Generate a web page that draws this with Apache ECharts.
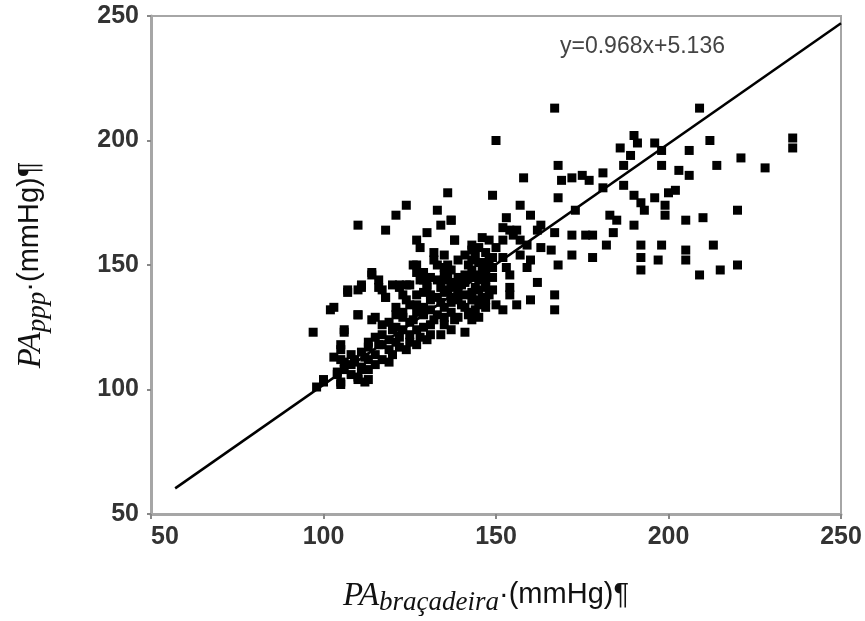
<!DOCTYPE html>
<html>
<head>
<meta charset="utf-8">
<script src="https://cdn.jsdelivr.net/npm/echarts@6/dist/echarts.min.js"></script>
<style>
html,body{margin:0;padding:0;background:#fff;}
#chart{width:865px;height:621px;}
</style>
</head>
<body>
<div id="chart"></div>
<script>
// Axis ticks
const xTicks = [50, 100, 150, 200, 250];
const yTicks = [50, 100, 150, 200, 250];

// Scatter points: [PA braçadeira, PA ppp]  (mmHg)
const upperPoints = [
  [167,213],[209,213],[150,200],[236,201],[236,197],[190,202],[191,199],[189,194],[186,197],[196,199],
  [198,196],[206,196],[212,200],[168,190],[187,190],[198,190],[214,190],[221,193],[228,189],[158,185],
  [169,184],[172,185],[175,186],[177,184],[181,187],[203,188],[206,186],[202,180],[149,178],[168,177],
  [181,181],[187,182],[190,178],[192,175],[193,172],[196,177],[200,179],[199,174],[199,170],[157,174],
  [160,170],[173,172],[183,170],[185,168],[184,163],[182,158],[190,166],[205,168],[210,169],[220,172],
  [137,168],[138,160],[163,166],[167,163],[172,162],[176,162],[178,162],[172,154],[178,153],[192,158],
  [192,153],[198,158],[197,152],[205,156],[205,152],[213,158],[192,148],[209,146],[215,148],[220,150],
  [162,143],[160,136],[167,138],[167,132]
];
const middlePoints = [
  [153,169],[152,165],[154,164],[156,164],[152,160],[162,164],[146,161],[148,160],[150,157],[143,156],
  [155,162],[157,160],[159,158],[163,157],[166,156],[168,150],[157,154],[160,152],[159,149],[152,153],
  [153,149],[154,146],[154,141],[154,138],[148,152],[147,149],[145,146],[147,144],[147,141],[148,138],
  [150,134],[152,132],[156,134],[144,136],[144,132],[143,128],[147,133]
];
const lowerPoints = [
  [136,179],[124,174],[121,170],[133,172],[137,168],[134,166],[110,166],[118,164],[130,163],[127,160],
  [128,157],[138,160],[132,155],[135,154],[136,150],[135,144],[136,140],[143,158],[144,154],[142,150],
  [141,146],[139,142],[126,150],[127,147],[129,144],[130,142],[125,142],[122,141],[120,142],[114,147],
  [116,144],[117,140],[118,137],[111,142],[110,140],[107,139],[102,132],[110,130],[114,128],[106,124],
  [97,123],[105,118],[105,112],[109,112],[111,108],[113,104],[110,104],[104,107],[105,103],[100,104],
  [98,101],[141,123],[130,120]
];
const densePoints = [
  [127,150],[132,152],[135,149],[136,145],[143,152],[146,149],[147,146],
  [122,142],[124,142],[128,144],[130,141],[134,141],[137,141],[140,142],[144,141],[147,142],
  [124,136],[127,134],[131,136],[134,135],[137,137],[140,134],[143,136],[146,137],
  [121,130],[123,129],[126,128],[129,130],[132,128],[135,129],[138,128],[142,130],[145,129],
  [117,122],[120,124],[122,121],[125,122],[128,121],[131,122],[134,122],[137,124],
  [105,116],[113,117],[116,118],[119,116],[122,117],[124,116],[127,118],
  [103,113],[109,111],[112,113],[115,110],[119,111],[120,114],
  [100,103],[104,106],[105,102],[110,105],[112,103],
  [107,140],[114,146],[111,141],[116,141],[118,137],[103,133],[110,130],[115,129],[106,123],
  [106,108],[106,111],[108,106],[108,110],[108,114],[111,109],[111,115],[113,108],[113,112],[113,119],
  [115,114],[115,121],[117,112],[117,118],[117,126],[119,120],[119,127],[121,119],[121,125],[121,133],
  [123,124],[123,131],[123,138],[125,119],[125,127],[125,134],[127,124],[127,131],[127,138],
  [129,125],[129,133],[129,139],[129,147],[131,126],[131,132],[131,138],[131,145],
  [133,130],[133,137],[133,144],[133,150],[135,126],[135,133],[135,139],[135,146],
  [137,131],[137,135],[137,143],[137,148],[139,129],[139,136],[139,139],[139,145],[139,152],
  [141,133],[141,138],[141,143],[141,154],[143,131],[143,139],[143,145],[143,148],
  [145,134],[145,140],[145,144],[145,151],[145,157],[147,136],[147,147],[147,151],[147,155],
  [149,140],[149,145],[149,149],[149,153]
];

const trendLine = [[57, 60.3], [250, 247.1]];
const equationText = 'y=0.968x+5.136';

const xName = '{pa|PA}{sub|braçadeira}{txt|·(mmHg)¶}';
const yName = '{pa|PA}{sub|ppp}{txt|·(mmHg)¶}';

const nameRich = {
  pa:  {fontFamily:'Liberation Serif', fontStyle:'italic', fontSize:33, color:'#111', lineHeight:36, verticalAlign:'top'},
  sub: {fontFamily:'Liberation Serif', fontStyle:'italic', fontSize:27, color:'#111', lineHeight:28, verticalAlign:'bottom', padding:[16,0,0,0]},
  txt: {fontFamily:'Liberation Sans', fontSize:29, color:'#111', lineHeight:36, verticalAlign:'top'}
};

const axisLabelStyle = {fontFamily:'Liberation Sans', fontSize:25, fontWeight:'bold', color:'#333'};
const markerStyle = {color:'#000', opacity:1};

const chart = echarts.init(document.getElementById('chart'), null, {renderer:'canvas'});
chart.setOption({
  animation:false,
  backgroundColor:'#fff',
  grid:{left:148, right:24, top:16, bottom:106, show:true, borderColor:'#a6a6a6', borderWidth:2, backgroundColor:'transparent'},
  xAxis:{
    type:'value', min:xTicks[0], max:xTicks[xTicks.length-1], interval:50,
    axisLine:{show:true, onZero:false, lineStyle:{color:'#a6a6a6', width:3}},
    axisTick:{show:true, inside:false, length:5, lineStyle:{color:'#888', width:2}},
    splitLine:{show:false},
    axisLabel:Object.assign({margin:11, alignMinLabel:'left'}, axisLabelStyle),
    name:xName, nameLocation:'middle', nameGap:66,
    nameTextStyle:{rich:nameRich, padding:[0,20,0,0]}
  },
  yAxis:{
    type:'value', min:yTicks[0], max:yTicks[yTicks.length-1], interval:50,
    axisLine:{show:true, onZero:false, lineStyle:{color:'#a6a6a6', width:3}},
    axisTick:{show:true, inside:false, length:4, lineStyle:{color:'#888', width:2}},
    splitLine:{show:false},
    axisLabel:Object.assign({margin:12}, axisLabelStyle),
    name:yName, nameLocation:'middle', nameGap:100, nameRotate:90,
    nameTextStyle:{rich:nameRich}
  },
  graphic:[{
    type:'text', left:560, top:35,
    style:{text:equationText, font:'23px "Liberation Sans"', fill:'#444'}
  }],
  series:[
    {type:'scatter', symbol:'rect', symbolSize:9, itemStyle:markerStyle, data:upperPoints, z:3},
    {type:'scatter', symbol:'rect', symbolSize:9, itemStyle:markerStyle, data:middlePoints, z:3},
    {type:'scatter', symbol:'rect', symbolSize:9, itemStyle:markerStyle, data:lowerPoints, z:3},
    {type:'scatter', symbol:'rect', symbolSize:9, itemStyle:markerStyle, data:densePoints, z:3},
    {type:'line', data:trendLine, symbol:'none', lineStyle:{color:'#000', width:2.5}, z:4}
  ]
});
</script>
</body>
</html>
